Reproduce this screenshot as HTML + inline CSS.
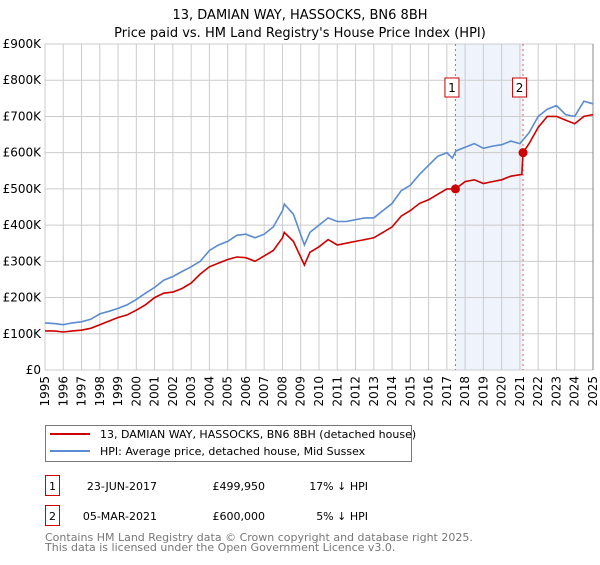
<!DOCTYPE html>
<html><head><meta charset="utf-8"><style>
body{margin:0;width:600px;height:560px;background:#fff;font-family:"Liberation Sans","DejaVu Sans",sans-serif;color:#000;overflow:hidden}
svg text{font-family:"DejaVu Sans","Liberation Sans",sans-serif}
</style></head><body>
<svg id="chart" width="600" height="560" viewBox="0 0 600 560">
<text x="300" y="19" text-anchor="middle" font-size="13">13, DAMIAN WAY, HASSOCKS, BN6 8BH</text>
<text x="300" y="37" text-anchor="middle" font-size="13">Price paid vs. HM Land Registry's House Price Index (HPI)</text>
<g id="grid"></g><g id="series"></g><g id="axes"></g>
<rect x="45.5" y="425.5" width="366" height="36" fill="#fff" stroke="#777" stroke-width="1"/>
<line x1="50" y1="434" x2="90" y2="434" stroke="#cc0000" stroke-width="2"/>
<text x="100" y="438" font-size="11">13, DAMIAN WAY, HASSOCKS, BN6 8BH (detached house)</text>
<line x1="50" y1="451" x2="90" y2="451" stroke="#5b8bd0" stroke-width="2"/>
<text x="100" y="455" font-size="11">HPI: Average price, detached house, Mid Sussex</text>
<g>
<rect x="45.5" y="475.5" width="14" height="20" fill="#fff" stroke="#cc0000"/><text x="52.5" y="490" text-anchor="middle" font-size="11">1</text>
<text x="157" y="490" text-anchor="end" font-size="11">23-JUN-2017</text><text x="265" y="490" text-anchor="end" font-size="11">£499,950</text><text x="368" y="490" text-anchor="end" font-size="11">17% ↓ HPI</text></g>
<g>
<rect x="45.5" y="505.5" width="14" height="20" fill="#fff" stroke="#cc0000"/><text x="52.5" y="520" text-anchor="middle" font-size="11">2</text>
<text x="157" y="520" text-anchor="end" font-size="11">05-MAR-2021</text><text x="265" y="520" text-anchor="end" font-size="11">£600,000</text><text x="368" y="520" text-anchor="end" font-size="11">5% ↓ HPI</text></g>
<text x="45" y="541" font-size="11" fill="#777">Contains HM Land Registry data © Crown copyright and database right 2025.</text>
<text x="45" y="551" font-size="11" fill="#777">This data is licensed under the Open Government Licence v3.0.</text>
</svg>
<script>
const hpiYears=[1995,1995.5,1996,1996.5,1997,1997.5,1998,1998.5,1999,1999.5,2000,2000.5,2001,2001.5,2002,2002.5,2003,2003.5,2004,2004.5,2005,2005.5,2006,2006.5,2007,2007.5,2008,2008.1,2008.6,2009.2,2009.5,2010,2010.5,2011,2011.5,2012,2012.5,2013,2013.5,2014,2014.5,2015,2015.5,2016,2016.5,2017,2017.3,2017.5,2018,2018.5,2019,2019.5,2020,2020.5,2021,2021.5,2022,2022.5,2023,2023.5,2024,2024.5,2025];
const hpiValues=[130,128,125,130,133,140,155,162,170,180,195,212,228,248,258,272,285,300,330,345,355,372,375,365,375,395,440,458,430,345,380,400,420,410,410,415,420,420,440,460,495,510,540,565,590,600,585,605,615,625,612,618,622,632,625,655,700,720,730,705,700,742,735];
const ppYears=[1995,1995.5,1996,1996.5,1997,1997.5,1998,1998.5,1999,1999.5,2000,2000.5,2001,2001.5,2002,2002.5,2003,2003.5,2004,2004.5,2005,2005.5,2006,2006.5,2007,2007.5,2008,2008.1,2008.6,2009.2,2009.5,2010,2010.5,2011,2011.5,2012,2012.5,2013,2013.5,2014,2014.5,2015,2015.5,2016,2016.5,2017,2017.47,2018,2018.5,2019,2019.5,2020,2020.5,2021.1,2021.17,2021.5,2022,2022.5,2023,2023.5,2024,2024.5,2025];
const ppValues=[108,108,105,108,110,115,125,135,145,152,165,180,200,212,215,225,240,265,285,295,305,312,310,300,315,330,365,380,355,290,325,340,360,345,350,355,360,365,380,395,425,440,460,470,485,500,500,520,525,515,520,525,535,540,600,625,670,700,700,690,680,700,705];
const sales=[{label:"1",year:2017.47,value:499.95},{label:"2",year:2021.17,value:600}];
const yTicks=[0,100,200,300,400,500,600,700,800,900];
const yTickLabels=["£0","£100K","£200K","£300K","£400K","£500K","£600K","£700K","£800K","£900K"];
const xTicks=[1995,1996,1997,1998,1999,2000,2001,2002,2003,2004,2005,2006,2007,2008,2009,2010,2011,2012,2013,2014,2015,2016,2017,2018,2019,2020,2021,2022,2023,2024,2025];
const NS="http://www.w3.org/2000/svg";
const X0=45,X1=593,Y0=370,Y1=44;
const xs=y=>X0+(y-1995)/30*(X1-X0);
const ys=v=>Y0-v/900*(Y0-Y1);
function mk(p,tag,at){const e=document.createElementNS(NS,tag);for(const k in at)e.setAttribute(k,at[k]);p.appendChild(e);return e;}
const grid=document.getElementById('grid'),ser=document.getElementById('series'),ax=document.getElementById('axes');
const sh=mk(grid,'rect',{x:xs(sales[0].year),y:Y1,width:xs(sales[1].year)-xs(sales[0].year),height:Y0-Y1,fill:'#eef3fc'});


yTicks.forEach((v,i)=>{
 const l=mk(grid,'line',{x1:X0,x2:X1,y1:ys(v),y2:ys(v),stroke:'#cccccc'});
 
 
 const t=mk(ax,'text',{x:X0-4,y:ys(v)+4,'text-anchor':'end','font-size':12});
 t.textContent=yTickLabels[i];
 
 
});
xTicks.forEach(y=>{
 const l=mk(grid,'line',{x1:xs(y),x2:xs(y),y1:Y1,y2:Y0,stroke:'#cccccc'});
 
 
 const t=mk(ax,'text',{x:0,y:0,'text-anchor':'end','font-size':12,transform:`translate(${xs(y)+4},${Y0+6}) rotate(-90)`});
 t.textContent=y;
 
 
});
const rb=mk(grid,'line',{x1:X1,x2:X1,y1:Y1,y2:Y0,stroke:'#888'});


sales.forEach(s=>{
 const l=mk(grid,'line',{x1:xs(s.year),x2:xs(s.year),y1:Y1,y2:Y0,stroke:'#e06060','stroke-dasharray':'2,3'});
 
 
});
function path(xa,va,col,name){
 const d=xa.map((y,i)=>(i?'L':'M')+xs(y).toFixed(1)+','+ys(va[i]).toFixed(1)).join('');
 const p=mk(ser,'path',{d:d,fill:'none',stroke:col,'stroke-width':1.6});
 
 
}
path(hpiYears,hpiValues,'#5b8bd0','hpi-line');
path(ppYears,ppValues,'#cc0000','property-price-line');
sales.forEach(s=>{
 const c=mk(ser,'circle',{cx:xs(s.year),cy:ys(s.value),r:4.5,fill:'#cc0000'});
 
 
 const g=mk(ser,'g',{});
 
 
 mk(g,'rect',{x:xs(s.year)-10.5,y:78,width:14,height:19,fill:'#fff',stroke:'#cc0000'});
 const t=mk(g,'text',{x:xs(s.year)-3.5,y:92,'text-anchor':'middle','font-size':12});
 t.textContent=s.label;
});
</script>
</body></html>
